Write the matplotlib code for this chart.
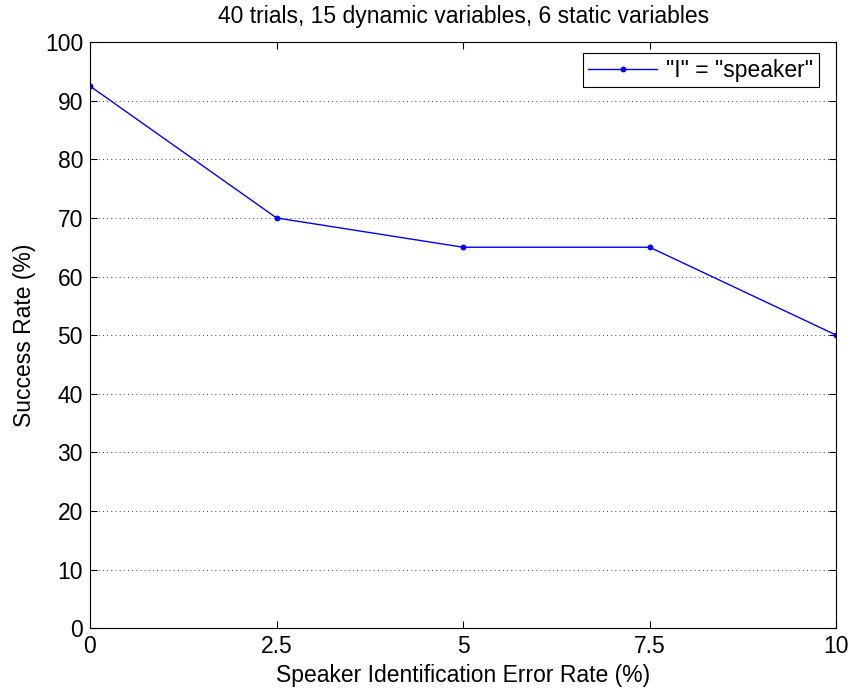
import matplotlib
matplotlib.use("Agg")
import matplotlib.pyplot as plt

plt.rcParams["font.family"] = ["Liberation Sans", "DejaVu Sans"]

error_rate = [0, 2.5, 5, 7.5, 10]
success_rate = [92.5, 70, 65, 65, 50]
x_ticks = [0, 2.5, 5, 7.5, 10]
x_tick_labels = ["0", "2.5", "5", "7.5", "10"]
y_ticks = list(range(0, 101, 10))

FS = 16.5

fig = plt.figure(figsize=(8.49, 6.91), dpi=100)
ax = fig.add_axes([0.106, 0.091, 0.879, 0.848])

ax.plot(error_rate, success_rate, color="blue", linewidth=1.0, marker="o",
        markersize=3.2, label='"I" = "speaker"')

ax.set_xlim(0, 10)
ax.set_ylim(0, 100)
ax.set_xticks(x_ticks)
ax.set_xticklabels(x_tick_labels)
ax.set_yticks(y_ticks)
ax.tick_params(direction="in", top=True, right=True, labelsize=FS, length=5, pad=5)
ax.yaxis.grid(True, linestyle=(0, (1, 4)), color="black", linewidth=0.6)
ax.set_axisbelow(True)

ax.set_xlabel("Speaker Identification Error Rate (%)", fontsize=FS, labelpad=4)
ax.set_ylabel("Success Rate (%)", fontsize=FS, labelpad=6)
ax.set_title("40 trials, 15 dynamic variables, 6 static variables", fontsize=FS, pad=14)

# legend box anchored where the original sits (upper right, a bit inset)
leg = ax.legend(loc="upper right", fontsize=FS, fancybox=False, framealpha=1,
                edgecolor="black", handlelength=3.0, handletextpad=0.4,
                borderpad=0.25, borderaxespad=0,
                bbox_to_anchor=(819 / 849, (691 - 53) / 691),
                bbox_transform=fig.transFigure)
leg.get_frame().set_linewidth(0.8)

fig.savefig("out.png", dpi=100)
